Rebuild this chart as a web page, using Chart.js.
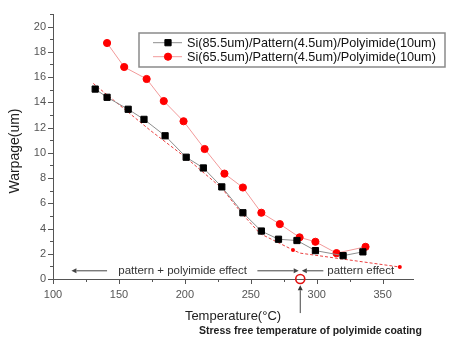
<!DOCTYPE html>
<html>
<head>
<meta charset="utf-8">
<script src="https://cdn.jsdelivr.net/npm/chart.js@4/dist/chart.umd.min.js"></script>
<style>
html, body { margin: 0; padding: 0; background: #fff; }
</style>
</head>
<body>
<canvas id="myChart" width="456" height="345"></canvas>
<script>
// values
var seriesLabels = ["Si(85.5um)/Pattern(4.5um)/Polyimide(10um)", "Si(65.5um)/Pattern(4.5um)/Polyimide(10um)"];
var tempA = [132, 141, 157, 169, 185, 201, 214, 228, 244, 258, 271, 285, 299, 320, 335];
var warpA = [15.05, 14.4, 13.45, 12.65, 11.35, 9.65, 8.8, 7.3, 5.25, 3.8, 3.15, 3.05, 2.25, 1.85, 2.15];
var tempB = [141, 154, 171, 184, 199, 215, 230, 244, 258, 272, 287, 299, 315, 337];
var warpB = [18.7, 16.8, 15.85, 14.1, 12.5, 10.3, 8.35, 7.25, 5.25, 4.35, 3.3, 2.95, 2.05, 2.55];
// dashed trend line
var tempFit = [130.5, 173.5, 201, 228, 244, 257, 282, 287.5, 363];
var warpFit = [15.5, 11.8, 9.6, 7.2, 5.1, 3.6, 2.3, 2.05, 0.95];
var fitDots = [0, 0, 0, 0, 0, 0, 2, 0, 2];
var xTicks = [100, 150, 200, 250, 300, 350];
var yTicks = [0, 2, 4, 6, 8, 10, 12, 14, 16, 18, 20];
var stressFreeTemp = 287.5;

var FONT = "'Liberation Sans', Arial, sans-serif";

function toPoints(xs, ys) {
  var pts = [];
  for (var i = 0; i < xs.length; i++) pts.push({ x: xs[i], y: ys[i] });
  return pts;
}

function arrow(ctx, x1, y1, x2, y2) {
  // line from (x1,y1) with head at (x2,y2)
  var a = Math.atan2(y2 - y1, x2 - x1), h = 5, w = 2.5;
  ctx.beginPath();
  ctx.moveTo(x1, y1);
  ctx.lineTo(x2 - Math.cos(a) * h, y2 - Math.sin(a) * h);
  ctx.stroke();
  ctx.beginPath();
  ctx.moveTo(x2, y2);
  ctx.lineTo(x2 - Math.cos(a) * h - Math.sin(a) * w, y2 - Math.sin(a) * h + Math.cos(a) * w);
  ctx.lineTo(x2 - Math.cos(a) * h + Math.sin(a) * w, y2 - Math.sin(a) * h - Math.cos(a) * w);
  ctx.closePath();
  ctx.fill();
}

// minor/major tick marks, titles, legend box and annotations
var decorations = {
  id: 'decorations',
  afterDraw: function(chart) {
    var ctx = chart.ctx, xs = chart.scales.x, ys = chart.scales.y, area = chart.chartArea;
    ctx.save();
    ctx.strokeStyle = '#555';
    ctx.fillStyle = '#555';
    ctx.lineWidth = 1;

    // tick marks
    xs.ticks.forEach(function(t) {
      var px = Math.round(xs.getPixelForValue(t.value)) + 0.5;
      var len = xTicks.indexOf(t.value) >= 0 ? 5 : 3;
      ctx.beginPath(); ctx.moveTo(px, area.bottom); ctx.lineTo(px, area.bottom + len); ctx.stroke();
    });
    ys.ticks.forEach(function(t) {
      var py = Math.round(ys.getPixelForValue(t.value)) + 0.5;
      var len = yTicks.indexOf(t.value) >= 0 ? 5 : 3;
      ctx.beginPath(); ctx.moveTo(area.left, py); ctx.lineTo(area.left - len, py); ctx.stroke();
    });

    // axis titles
    ctx.fillStyle = '#222';
    ctx.font = '13px ' + FONT;
    ctx.textAlign = 'center';
    ctx.textBaseline = 'middle';
    ctx.fillText('Temperature(\u00B0C)', (area.left + area.right) / 2, 316);
    ctx.save();
    ctx.translate(15, 151);
    ctx.rotate(-Math.PI / 2);
    ctx.font = '14px ' + FONT;
    ctx.fillText('Warpage(um)', 0, 0);
    ctx.restore();

    // annotation row
    var ay = ys.getPixelForValue(0.65);
    ctx.strokeStyle = '#444';
    ctx.fillStyle = '#444';
    arrow(ctx, xs.getPixelForValue(141), ay, xs.getPixelForValue(114), ay);
    arrow(ctx, xs.getPixelForValue(255), ay, xs.getPixelForValue(286.3), ay);
    arrow(ctx, xs.getPixelForValue(305), ay, xs.getPixelForValue(288.7), ay);
    ctx.fillStyle = '#333';
    ctx.font = '11.5px ' + FONT;
    ctx.textAlign = 'left';
    ctx.fillText('pattern + polyimide effect', xs.getPixelForValue(149.5), ay);
    ctx.fillText('pattern effect', xs.getPixelForValue(308), ay);

    // stress free temperature marker
    var sx = xs.getPixelForValue(stressFreeTemp);
    ctx.strokeStyle = '#e01010';
    ctx.lineWidth = 1.6;
    ctx.beginPath();
    ctx.arc(sx, ys.getPixelForValue(0), 4.5, 0, Math.PI * 2);
    ctx.stroke();
    ctx.strokeStyle = '#444';
    ctx.fillStyle = '#333';
    ctx.lineWidth = 1;
    arrow(ctx, sx, ys.getPixelForValue(-2.7), sx, ys.getPixelForValue(-0.5));
    ctx.fillStyle = '#222';
    ctx.font = 'bold 10.5px ' + FONT;
    ctx.textAlign = 'left';
    ctx.fillText('Stress free temperature of polyimide coating', 199, 331);

    // legend box
    var bx = 139, by = 33, bw = 306, bh = 34;
    ctx.fillStyle = '#fff';
    ctx.fillRect(bx, by, bw, bh);
    ctx.strokeStyle = '#8a8a8a';
    ctx.lineWidth = 1.5;
    ctx.strokeRect(bx, by, bw, bh);
    ctx.font = '12.7px ' + FONT;
    ctx.textAlign = 'left';
    ctx.textBaseline = 'middle';
    for (var i = 0; i < 2; i++) {
      var ds = chart.data.datasets[i];
      var ly = 42.7 + i * 14;
      ctx.strokeStyle = ds.borderColor;
      ctx.lineWidth = 1;
      ctx.beginPath(); ctx.moveTo(153, ly); ctx.lineTo(182, ly); ctx.stroke();
      ctx.fillStyle = ds.pointBackgroundColor;
      ctx.strokeStyle = ds.pointBorderColor;
      Chart.helpers.drawPoint(ctx, { pointStyle: ds.pointStyle, radius: ds.pointRadius, borderWidth: 1, rotation: 0 }, 168, ly);
      ctx.fillStyle = '#111';
      ctx.fillText(ds.label, 187, ly + 0.5);
    }
    ctx.restore();
  }
};

var ctx = document.getElementById('myChart').getContext('2d');
var myChart = new Chart(ctx, {
  type: 'scatter',
  data: {
    datasets: [
      {
        label: seriesLabels[0],
        data: toPoints(tempA, warpA),
        showLine: true,
        borderColor: '#8e8e8e',
        borderWidth: 1,
        pointStyle: 'rect',
        pointRadius: 4.4,
        pointBackgroundColor: '#000',
        pointBorderColor: '#000',
        pointBorderWidth: 1
      },
      {
        label: seriesLabels[1],
        data: toPoints(tempB, warpB),
        showLine: true,
        borderColor: '#f29a9a',
        borderWidth: 1,
        pointStyle: 'circle',
        pointRadius: 3.6,
        pointBackgroundColor: '#f00',
        pointBorderColor: '#f00',
        pointBorderWidth: 1
      },
      {
        label: 'trend',
        data: toPoints(tempFit, warpFit),
        showLine: true,
        borderColor: '#ea4040',
        borderWidth: 1,
        borderDash: [3, 2],
        pointRadius: fitDots,
        pointBackgroundColor: '#f00',
        pointBorderWidth: 0
      }
    ]
  },
  options: {
    responsive: false,
    animation: false,
    devicePixelRatio: 1,
    layout: { padding: { left: 0, right: 43, top: 14, bottom: 0 } },
    plugins: { legend: { display: false }, tooltip: { enabled: false } },
    scales: {
      x: {
        type: 'linear',
        min: 100,
        max: 373,
        afterFit: function(s) { s.height = 66; },
        border: { display: true, color: '#555', width: 1 },
        grid: { display: true, drawOnChartArea: false, drawTicks: false },
        ticks: {
          stepSize: 25,
          includeBounds: false,
          padding: 9,
          maxRotation: 0,
          autoSkip: false,
          color: '#555',
          font: { family: FONT, size: 11 },
          callback: function(v) { return xTicks.indexOf(v) >= 0 ? String(v) : ''; }
        }
      },
      y: {
        type: 'linear',
        min: 0,
        max: 21,
        afterFit: function(s) { s.width = 53; },
        border: { display: true, color: '#555', width: 1 },
        grid: { display: true, drawOnChartArea: false, drawTicks: false },
        ticks: {
          stepSize: 1,
          includeBounds: false,
          padding: 7,
          autoSkip: false,
          color: '#555',
          font: { family: FONT, size: 11 },
          callback: function(v) { return yTicks.indexOf(v) >= 0 ? String(v) : ''; }
        }
      }
    }
  },
  plugins: [decorations]
});
</script>
</body>
</html>
